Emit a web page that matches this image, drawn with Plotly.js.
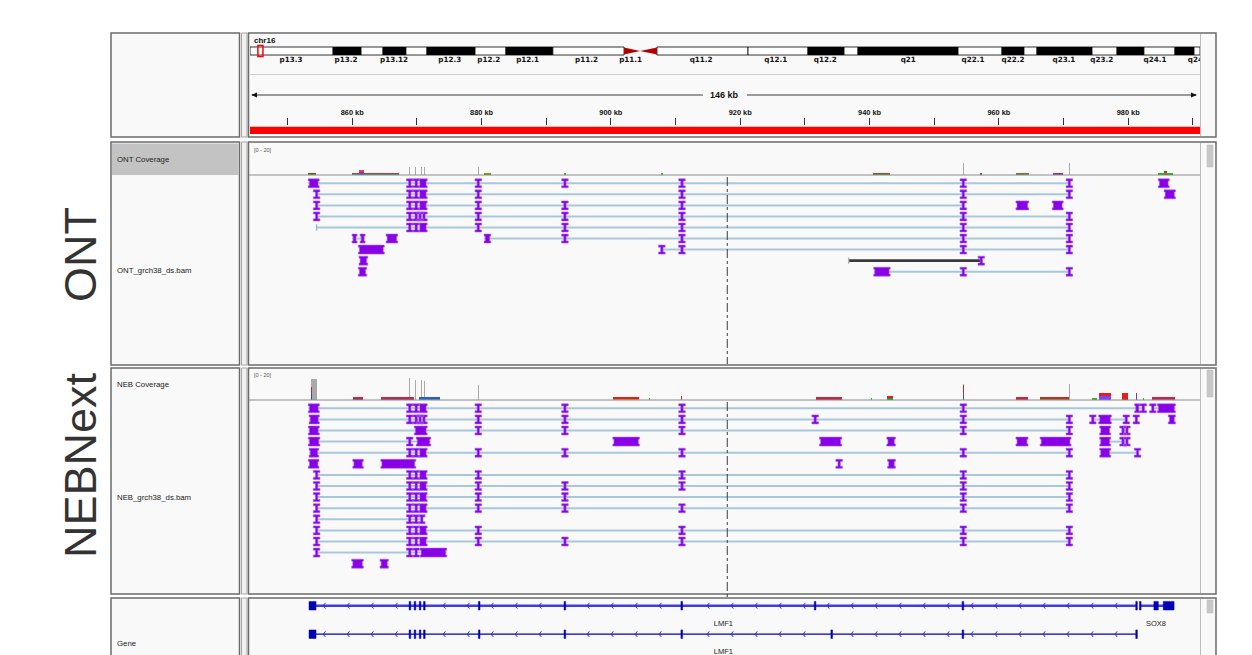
<!DOCTYPE html>
<html>
<head>
<meta charset="utf-8">
<script src="https://cdn.plot.ly/plotly-3.0.1.min.js"></script>
<style>
html,body{margin:0;padding:0;background:#ffffff;overflow:hidden;}
#chart{width:1252px;height:655px;}
</style>
</head>
<body>
<div id="chart"></div>
<script>
// ================= DATA =================
const viewStartKb = 844.2;
const viewEndKb = 991.1;
const centerGuideKb = 918.0;
const chromName = 'chr16';
const chromLengthMb = 90.34;
const locusMb = [0.75, 1.23];
const spanLabel = '146 kb';

// cytobands (Mb)
const bandStartMb = [0,7.9,10.56,12.65,14.83,16.83,21.4,24.34,28.8,38.7,47.36,53.06,56.49,57.82,67.33,71.51,73.6,74.84,80.07,82.45,85.01,87.96,89.77];
const bandEndMb   = [7.9,10.56,12.65,14.83,16.83,21.4,24.34,28.8,35.57,47.36,53.06,56.49,57.82,67.33,71.51,73.6,74.84,80.07,82.45,85.01,87.96,89.77,90.34];
const bandDark    = [0,1,0,1,0,1,0,1,0,0,0,1,0,1,0,1,0,1,0,1,0,1,0];
const centromereMb = [35.57, 37.1, 38.7];
const bandLabels  = ['p13.3','p13.2','p13.12','p12.3','p12.2','p12.1','p11.2','p11.1','q11.2','q12.1','q12.2','q21','q22.1','q22.2','q23.1','q23.2','q24.1','q24'];
const bandLabelMb = [3.9,9.13,13.7,19.0,22.7,26.4,32.0,36.2,42.9,50.0,54.7,62.6,68.75,72.56,77.4,81.0,86.06,89.9];

// ruler
const rulerTickKb  = [850,860,870,880,890,900,910,920,930,940,950,960,970,980,990];
const rulerLabelKb = [860,880,900,920,940,960,980];

// ONT coverage
const ontPeakKb      = [854.56,868.84,869.83,870.76,871.11,879.5,911.0,954.5,970.9];
const ontPeakWidthKb = [0.15,0.15,0.15,0.15,0.15,0.15,0.15,0.15,0.15];
const ontPeakDepth   = [5.5,5.5,5.5,5.5,5.5,5.5,8,8,8];
const ontMisStartKb  = [853.2,859.9,861.0,880.4,892.8,907.7,940.6,957.15,962.6,968.3,984.6,985.6];
const ontMisEndKb    = [854.4,867.3,861.8,881.5,893.05,908.0,943.2,957.4,964.6,969.9,987.0,986.0];
const ontMisDepth    = [1.5,1.5,3.5,1.5,1.2,1.2,1.5,1.5,1.5,1.5,1.5,3];
const ontMisLowColor = ['#00b000','#20a040','#3050ff','#00b000','#20c020','#20c020','#00a000','#2040ff','#00b000','#3050ff','#00b000','#e02020'];
const ontMisHighColor= ['#e02020','#d03050','#e04040','#e07000','#20c020','#20c020','#e03030','#e02020','#e04040','#e02020','#20c020','#e02020'];

// NEB coverage
const nebPeakKb      = [854.08,868.84,869.83,870.76,871.11,879.5,911.0,954.5,970.9];
const nebPeakWidthKb = [0.88,0.15,0.15,0.15,0.15,0.15,0.15,0.15,0.15];
const nebPeakDepth   = [14,15,13.5,13.5,13,10,10,11,11];
const nebMisStartKb  = [853.7,860.1,864.5,870.3,900.3,905.9,910.95,931.7,940.3,942.7,954.42,962.6,966.3,974.4,975.5,979.0,981.2,982.3,983.7];
const nebMisEndKb    = [853.85,861.7,869.5,873.6,904.4,906.1,911.05,935.7,940.45,943.6,954.58,964.5,970.8,975.2,977.4,980.0,981.4,982.45,987.3];
const nebMisDepth    = [9,2,2,2,2,1.5,3,2,1.5,2.5,10,2,2,1.5,5,5,5,1.5,2];
const nebMisLowColor = ['#2040ff','#2050ff','#3050ff','#20b020','#e08000','#20c020','#e02020','#8030c0','#20c020','#20a020','#3050ff','#8040c0','#20b020','#20c020','#8040ff','#e02020','#3050ff','#20c020','#8040ff'];
const nebMisHighColor= ['#e02020','#e02020','#e02020','#3050ff','#e02020','#20c020','#e02020','#e02020','#20c020','#e02020','#e02020','#e02020','#e02020','#20c020','#e02020','#e02020','#e02020','#20c020','#e02020'];

// ONT reads: row index, kind ('n' spliced, 'd' deletion), aligned blocks [startKb,endKb] or [centerKb] for tiny blocks
const ontReadRow  = [0,0,1,1,2,2,2,3,4,5,5,5,6,6,7,7,8,8];
const ontReadKind = ['n','n','n','n','n','n','n','n','n','n','n','n','n','n','n','d','n','n'];
const ontReadBlocks = [
 [[853.2,854.9],[868.9],[869.9],[870.3,871.6],[879.5],[892.9],[911.0],[954.5],[970.9]],
 [[984.65,986.35]],
 [[854.5],[868.9],[869.9],[870.3,871.6],[879.5],[911.0],[954.5],[970.9]],
 [[985.55,987.3]],
 [[854.5],[868.9],[869.9],[870.3,871.6],[879.5],[892.9],[911.0],[954.5]],
 [[962.64,964.62]],
 [[968.25,969.95]],
 [[854.5],[868.9],[869.9],[870.5],[871.1],[879.5],[892.9],[911.0],[954.5],[970.9]],
 [[854.5,854.5,'g'],[868.9],[869.9],[870.3,871.6],[879.5],[892.9],[911.0],[954.5],[970.9]],
 [[859.98,860.76],[861.22,862.0]],
 [[865.24,867.05]],
 [[880.4,881.43],[892.9],[911.0],[954.5],[970.9]],
 [[860.95,864.97]],
 [[907.88],[911.0],[954.5],[970.9]],
 [[861.06,862.41]],
 [[936.77,936.77,'g'],[957.28]],
 [[860.95,862.25]],
 [[940.64,943.19],[954.5],[970.9]]
];

// NEBNext reads
const nebReadRow = [0,0,1,1,1,1,2,2,2,3,3,3,3,3,3,3,4,4,5,5,5,5,5,6,7,8,9,10,11,12,13,14,14];
const nebReadBlocks = [
 [[853.22,854.92],[868.9],[869.9],[870.3,871.6],[879.5],[892.9],[911.0],[954.5],[981.0,981.8],[982.0,982.65]],
 [[983.8],[984.5,987.3]],
 [[853.34,854.92],[868.9],[869.9],[870.5],[871.1],[879.5],[892.9],[911.0],[931.6],[954.5],[970.9]],
 [[974.52],[975.43,977.4],[979.7]],
 [[981.25]],
 [[986.2,987.3]],
 [[853.22,854.92],[869.6,871.6],[879.5],[892.9],[911.0],[954.5],[970.9]],
 [[975.59,977.29]],
 [[979.2],[979.8]],
 [[853.22,855.0],[868.9],[869.9,872.15]],
 [[900.3,904.42]],
 [[932.26,935.7]],
 [[942.67,944.0]],
 [[962.64,964.51]],
 [[966.38,971.16]],
 [[975.59,977.29],[979.2],[979.8]],
 [[853.34,854.83],[868.9],[869.9],[870.3,871.6],[879.5],[892.9],[911.0],[954.5],[970.9]],
 [[975.59,977.29],[981.45]],
 [[853.22,854.87]],
 [[860.09,861.73]],
 [[864.42,869.83]],
 [[935.3]],
 [[942.8,944.0]],
 [[854.5],[868.9],[869.9],[870.3,871.6],[879.5],[911.0],[954.5],[970.9]],
 [[854.5],[868.9],[869.9],[870.3,871.6],[879.5],[892.9],[911.0],[954.5],[970.9]],
 [[854.5],[868.9],[869.9],[870.3,871.6],[879.5],[892.9],[954.5],[970.9]],
 [[854.5],[868.9],[869.9],[870.3,871.6],[879.5],[892.9],[911.0],[954.5],[970.9]],
 [[854.5],[868.9],[869.9],[870.76]],
 [[854.5],[868.9],[869.9],[870.3,871.6],[879.5],[911.0],[954.5],[970.9]],
 [[854.5],[868.9],[869.9],[870.3,871.6],[879.5],[892.9],[911.0],[954.5],[970.9]],
 [[854.5],[868.9],[869.9],[870.5,874.63]],
 [[859.93,861.73]],
 [[864.3,865.6]]
];

// genes
const geneName    = ['LMF1','SOX8','LMF1'];
const geneRow     = [0,0,1];
const geneLabelKb = [917.4,984.3,917.4];
const geneExons = [
 [[853.33,854.41],[868.93],[869.71],[870.5],[871.16],[879.64],[892.89],[910.96],[931.58],[954.44],[981.29]],
 [[981.86],[983.97,984.65],[985.42,987.09]],
 [[853.33,854.41],[868.93],[869.71],[870.5],[871.16],[879.64],[892.89],[910.96],[934.15],[954.44],[981.29]]
];

// ================= RENDER =================
const W = 1252, H = 655;
const PX = x => x / W, PY = y => 1 - y / H;
const DL = 250, DR = 1200;
const KBPX = (viewEndKb - viewStartKb) / (DR - DL);

const ONT_ROW0 = 183.3, ONT_PITCH = 11.05;
const NEB_ROW0 = 408.3, NEB_PITCH = 11.1;
const GENE_ROW0 = 605.7, GENE_PITCH = 28.5;

function blockEnd(b){ return (b.length > 1 && typeof b[1] === 'number') ? b[1] : b[0]; }

function blockPoly(xs, ys, b, r, hh, cap){
  const s = b[0], e = blockEnd(b);
  let L, R, Lb, Rb;
  if ((e - s) < 4.5 * KBPX){
    const c = (s + e) / 2;
    L = c - 3.3*KBPX; R = c + 3.3*KBPX; Lb = c - 1.2*KBPX; Rb = c + 1.2*KBPX;
  } else {
    L = s; R = e; Lb = s + 1.1*KBPX; Rb = e - 1.1*KBPX;
  }
  const t = r - hh, bt = r + hh;
  xs.push(L,R,R,Rb,Rb,R,R,L,L,Lb,Lb,L,L,null);
  ys.push(t,t,t+cap,t+cap,bt-cap,bt-cap,bt,bt,bt-cap,bt-cap,t+cap,t+cap,t,null);
}

function readTraces(rows, blocks, kinds, yaxis, pitch){
  const hh = 4.5/pitch, cap = 2.1/pitch;
  const lx=[],ly=[],dx=[],dy=[],fx=[],fy=[],gx=[],gy=[];
  blocks.forEach((bl,i)=>{
    const r = rows[i];
    const a = Math.min(...bl.map(b=>b[0])), z = Math.max(...bl.map(blockEnd));
    if (bl.length > 1){
      if (kinds && kinds[i] === 'd'){ dx.push(a,z,null); dy.push(r,r,null); }
      else { lx.push(a,z,null); ly.push(r,r,null); }
    }
    bl.forEach(b=>{
      if (b[2] === 'g'){ gx.push(b[0],b[0],null); gy.push(r-hh*0.7,r+hh*0.7,null); }
      else blockPoly(fx,fy,b,r,hh,cap);
    });
  });
  const base = {type:'scatter', xaxis:'x', yaxis:yaxis, hoverinfo:'skip', showlegend:false};
  return [
    Object.assign({}, base, {mode:'lines', x:lx, y:ly, line:{color:'#a9c7da', width:2}}),
    Object.assign({}, base, {mode:'lines', x:dx, y:dy, line:{color:'#3a3a3a', width:2.6}}),
    Object.assign({}, base, {mode:'lines', x:gx, y:gy, line:{color:'#b0b0b0', width:1.4}}),
    Object.assign({}, base, {mode:'lines', x:fx, y:fy, fill:'toself', fillcolor:'#8a00e6', line:{color:'#a566f0', width:0.6}})
  ];
}

function covTraces(pk, pw, pd, ms, me, md, mlo, mhi, yaxis){
  const base = {type:'bar', xaxis:'x', yaxis:yaxis, hoverinfo:'skip', showlegend:false};
  const cx = ms.map((s,i)=>(s+me[i])/2), wd = ms.map((s,i)=>Math.max(me[i]-s, KBPX));
  return [
    Object.assign({}, base, {x:pk, y:pd, width:pw, marker:{color:'#a9a9a9', line:{width:0}}}),
    Object.assign({}, base, {x:cx, y:md.map(d=>d/2), base:0, width:wd, marker:{color:mlo, line:{width:0}}}),
    Object.assign({}, base, {x:cx, y:md.map(d=>d/2), base:md.map(d=>d/2), width:wd, marker:{color:mhi, line:{width:0}}})
  ];
}

function geneTraces(){
  const lines = [[[],[]],[[],[]]];
  const fx=[],fy=[],cx=[],cy=[];
  const hh = 4.3/GENE_PITCH;
  geneExons.forEach((ex,i)=>{
    const r = geneRow[i];
    const s = Math.min(...ex.map(b=>b[0])), e = Math.max(...ex.map(blockEnd));
    lines[r][0].push(s,e,null); lines[r][1].push(r,r,null);
    ex.forEach(b=>{
      let L = b[0], R = blockEnd(b);
      if (R - L < 1.6*KBPX){ const c=(L+R)/2; L = c-0.8*KBPX; R = c+0.8*KBPX; }
      fx.push(L,R,R,L,L,null); fy.push(r-hh,r-hh,r+hh,r+hh,r-hh,null);
    });
    for (let k = s + 2.2; k < e - 1.2; k += 3.71){
      const near = ex.some(b => k > b[0]-0.9 && k < blockEnd(b)+0.9);
      if (near) continue;
      cx.push(k+0.33, k, k+0.33, null); cy.push(r-0.1, r, r+0.1, null);
    }
  });
  const base = {type:'scatter', xaxis:'x', yaxis:'y5', hoverinfo:'skip', showlegend:false};
  return [
    Object.assign({}, base, {mode:'lines', x:lines[0][0], y:lines[0][1], line:{color:'#4040d0', width:2.4}}),
    Object.assign({}, base, {mode:'lines', x:lines[1][0], y:lines[1][1], line:{color:'#0000b8', width:1.3}}),
    Object.assign({}, base, {mode:'lines', x:cx, y:cy, line:{color:'#2a2ad0', width:1}}),
    Object.assign({}, base, {mode:'lines', x:fx, y:fy, fill:'toself', fillcolor:'#0000b4', line:{color:'#0000b4', width:0.5}}),
    Object.assign({}, base, {mode:'text', x:geneLabelKb, y:geneRow.map(r=>r+0.64), text:geneName,
      textfont:{family:'Liberation Sans', size:7.5, color:'#222'}})
  ];
}

const traces = [];
traces.push(...covTraces(ontPeakKb, ontPeakWidthKb, ontPeakDepth, ontMisStartKb, ontMisEndKb, ontMisDepth, ontMisLowColor, ontMisHighColor, 'y3'));
traces.push(...covTraces(nebPeakKb, nebPeakWidthKb, nebPeakDepth, nebMisStartKb, nebMisEndKb, nebMisDepth, nebMisLowColor, nebMisHighColor, 'y4'));
traces.push(...readTraces(ontReadRow, ontReadBlocks, ontReadKind, 'y', ONT_PITCH));
traces.push(...readTraces(nebReadRow, nebReadBlocks, null, 'y2', NEB_PITCH));
traces.push(...geneTraces());
traces.push({type:'scatter', mode:'text', xaxis:'x2', yaxis:'y6', x:bandLabelMb, y:bandLabelMb.map(()=>59.8),
  text:bandLabels.map(t=>'<b>'+t+'</b>'), textfont:{family:'DejaVu Sans', size:7.2, color:'#111'}, hoverinfo:'skip', showlegend:false});

// ---- shapes ----
const shapes = [];
function prect(x0,y0,x1,y1,fill,lc,lw,layer){
  shapes.push({type:'rect', xref:'paper', yref:'paper', x0:PX(x0), x1:PX(x1), y0:PY(y1), y1:PY(y0),
    fillcolor:fill, line:{color:lc, width:lw}, layer:layer||'above'});
}
function pline(x0,y0,x1,y1,c,w,dash){
  shapes.push({type:'line', xref:'paper', yref:'paper', x0:PX(x0), x1:PX(x1), y0:PY(y0), y1:PY(y1),
    line:{color:c, width:w, dash:dash||'solid'}});
}
const sections = [[33,137],[142,365],[368,594],[598,672]];
sections.forEach(([t,b])=>{
  prect(111,t,239.5,b,'#f9f9f9','#6b6b6b',1.5,'below');
  prect(241.5,t,247,b,'#f1f1f1','#a5a5a5',1,'below');
  prect(248.5,t,1216,b,'#f9f9f9','#6b6b6b',1.5,'below');
  pline(1200.5,t+1,1200.5,b-1,'#bdbdbd',1);
});
prect(112,143.5,238.5,175,'#c3c3c3','#c3c3c3',0,'below');
// scroll thumbs
prect(1207,145,1213,167,'#c8c8c8','#bcbcbc',0.5);
prect(1207,370,1213,397,'#c8c8c8','#bcbcbc',0.5);
prect(1207,600,1213,613,'#c8c8c8','#bcbcbc',0.5);
// header separator
pline(249,74.5,1200,74.5,'#d2d2d2',1);
// ideogram
bandStartMb.forEach((s,i)=>{
  shapes.push({type:'rect', xref:'x2', yref:'y6', x0:s, x1:bandEndMb[i], y0:47, y1:55,
    fillcolor: bandDark[i] ? '#000000' : '#ffffff', line:{color:'#000', width:0.8}});
});
shapes.push({type:'path', xref:'x2', yref:'y6', path:`M ${centromereMb[0]},47.5 L ${centromereMb[1]},51 L ${centromereMb[0]},54.5 Z`, fillcolor:'#b30000', line:{width:0}});
shapes.push({type:'path', xref:'x2', yref:'y6', path:`M ${centromereMb[2]},47.5 L ${centromereMb[1]},51 L ${centromereMb[2]},54.5 Z`, fillcolor:'#b30000', line:{width:0}});
shapes.push({type:'rect', xref:'x2', yref:'y6', x0:locusMb[0], x1:locusMb[1], y0:45.5, y1:56.5, fillcolor:'rgba(0,0,0,0)', line:{color:'#ff0000', width:1.5}});
// span ruler
pline(252,95,703,95,'#3c3c3c',1);
pline(747,95,1196,95,'#3c3c3c',1);
shapes.push({type:'path', xref:'paper', yref:'paper', path:`M ${PX(251)},${PY(95)} L ${PX(257)},${PY(92.5)} L ${PX(257)},${PY(97.5)} Z`, fillcolor:'#111', line:{width:0}});
shapes.push({type:'path', xref:'paper', yref:'paper', path:`M ${PX(1197)},${PY(95)} L ${PX(1191)},${PY(92.5)} L ${PX(1191)},${PY(97.5)} Z`, fillcolor:'#111', line:{width:0}});
// red sequence bar
shapes.push({type:'rect', xref:'x', yref:'paper', x0:viewStartKb, x1:viewEndKb, y0:PY(134), y1:PY(126.7), fillcolor:'#ff0000', line:{width:0}});
// coverage baselines
pline(249,175,1200,175,'#8c8c8c',1);
pline(249,400,1200,400,'#8c8c8c',1);
// center guide
[[177,364],[402,597]].forEach(([a,b])=>{
  shapes.push({type:'line', xref:'x', yref:'paper', x0:centerGuideKb, x1:centerGuideKb, y0:PY(a), y1:PY(b),
    line:{color:'#3a3a3a', width:1, dash:'dashdot'}});
});

// ---- annotations ----
const annotations = [];
function ann(text,x,y,size,opts){
  annotations.push(Object.assign({text:text, xref:'paper', yref:'paper', x:PX(x), y:PY(y), showarrow:false,
    xanchor:'left', yanchor:'middle', font:{family:'Liberation Sans', size:size, color:'#222'}}, opts||{}));
}
ann('<b>'+chromName+'</b>', 252, 40.5, 8, {font:{family:'Liberation Sans', size:8, color:'#111'}});
ann('<b>'+spanLabel+'</b>', 725, 95, 9, {xanchor:'center', font:{family:'Liberation Sans', size:9, color:'#111'}});
ann('[0 - 20]', 252, 149.5, 5.5, {font:{family:'Liberation Sans', size:5.5, color:'#555'}});
ann('[0 - 20]', 252, 374.5, 5.5, {font:{family:'Liberation Sans', size:5.5, color:'#555'}});
ann('ONT Coverage', 114.5, 160, 7.8);
ann('ONT_grch38_ds.bam', 114.5, 270.5, 7.8);
ann('NEB Coverage', 114.5, 384.5, 7.8);
ann('NEB_grch38_ds.bam', 114.5, 497.5, 7.8);
ann('Gene', 114.5, 643.5, 7.8);
ann('ONT', 80, 255, 45, {xanchor:'center', textangle:-90, font:{family:'Liberation Sans', size:45, color:'#333'}});
ann('NEBNext', 80, 465, 45, {xanchor:'center', textangle:-90, font:{family:'Liberation Sans', size:45, color:'#333'}});

// ---- axes ----
const hidden = {visible:false, showgrid:false, zeroline:false, fixedrange:true};
const layout = {
  width:W, height:H, margin:{l:0,r:0,t:0,b:0},
  paper_bgcolor:'#ffffff', plot_bgcolor:'rgba(0,0,0,0)',
  showlegend:false, barmode:'overlay', bargap:0,
  xaxis:{domain:[PX(DL),PX(DR)], range:[viewStartKb,viewEndKb], side:'top', anchor:'free', position:PY(125),
    showgrid:false, zeroline:false, showline:false, ticks:'outside', ticklen:7, tickwidth:1, tickcolor:'#333',
    tickmode:'array', tickvals:rulerTickKb,
    ticktext:rulerTickKb.map(v => rulerLabelKb.includes(v) ? '<b>'+v+' kb</b>' : ''),
    tickfont:{family:'Liberation Sans', size:7.4, color:'#111'}, fixedrange:true},
  xaxis2:Object.assign({}, hidden, {domain:[PX(DL),PX(DR)], range:[0,chromLengthMb], anchor:'y6'}),
  yaxis: Object.assign({}, hidden, {domain:[PY(364),PY(177)], range:[(364-ONT_ROW0)/ONT_PITCH,(177-ONT_ROW0)/ONT_PITCH], anchor:'x'}),
  yaxis2:Object.assign({}, hidden, {domain:[PY(594),PY(402)], range:[(594-NEB_ROW0)/NEB_PITCH,(402-NEB_ROW0)/NEB_PITCH], anchor:'x'}),
  yaxis3:Object.assign({}, hidden, {domain:[PY(175),PY(145)], range:[0,20], anchor:'x'}),
  yaxis4:Object.assign({}, hidden, {domain:[PY(400),PY(370)], range:[0,20], anchor:'x'}),
  yaxis5:Object.assign({}, hidden, {domain:[PY(655),PY(598)], range:[(655-GENE_ROW0)/GENE_PITCH,(598-GENE_ROW0)/GENE_PITCH], anchor:'x'}),
  yaxis6:Object.assign({}, hidden, {domain:[PY(136),PY(34)], range:[136,34], anchor:'x2'}),
  shapes:shapes, annotations:annotations
};

Plotly.newPlot('chart', traces, layout, {staticPlot:true, displayModeBar:false});
</script>
</body>
</html>
